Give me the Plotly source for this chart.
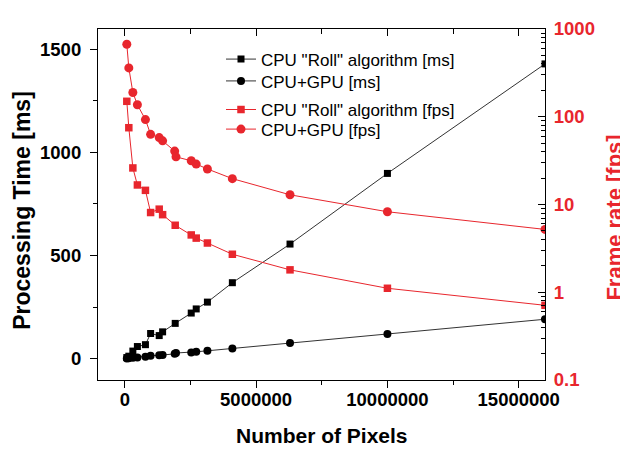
import plotly.graph_objects as go

# ---- data ----
pixels_roll = [76800, 153600, 307200, 480000, 786432, 983040, 1310720, 1440000,
               1920000, 2530000, 2720000, 3145728, 4096000, 6291456, 10000000, 16000000]
pixels_gpu = [76800, 153600, 307200, 480000, 786432, 983040, 1310720, 1440000,
              1900000, 1950000, 2530000, 2720000, 3145728, 4096000, 6291456, 10000000, 16000000]
ms_roll = [6.7, 13.3, 38, 60, 69, 123, 113, 131, 172, 222, 242, 275, 369, 556, 898, 1428]
ms_gpu = [1.5, 2.8, 5.3, 7.3, 10.8, 15.9, 17.3, 18.8, 24.6, 28.7, 31.7, 34.6, 39.4, 50.8, 77.5, 121, 192]
fps_roll = [150, 75, 26.1, 16.7, 14.5, 8.1, 8.85, 7.66, 5.8, 4.5, 4.14, 3.64, 2.71, 1.80, 1.11, 0.71]
fps_gpu = [671, 360, 189, 137, 92.8, 63, 57.9, 53.1, 40.6, 34.9, 31.5, 28.9, 25.4, 19.7, 12.9, 8.27, 5.2]

x_ticks = [0, 5000000, 10000000, 15000000]
x_tick_text = ["0", "5000000", "10000000", "15000000"]
x_minor = [2500000, 7500000, 12500000]
y_ticks = [0, 500, 1000, 1500]
y_minor = [250, 750, 1250]
fps_ticks = [0.1, 1, 10, 100, 1000]
fps_tick_text = ["0.1", "1", "10", "100", "1000"]

RED = "#e8262d"
BLACK = "#000000"
FONT = "Liberation Sans, Arial, sans-serif"

fps_minor = [m * d for d in (0.1, 1, 10, 100) for m in range(2, 10)]

fig = go.Figure()
fig.add_trace(go.Scatter(x=pixels_roll, y=ms_roll, mode="lines+markers",
                         name='CPU "Roll" algorithm [ms]', legend="legend",
                         line=dict(color="#333333", width=1),
                         marker=dict(symbol="square", size=7, color=BLACK)))
fig.add_trace(go.Scatter(x=pixels_gpu, y=ms_gpu, mode="lines+markers",
                         name="CPU+GPU [ms]", legend="legend2",
                         line=dict(color="#333333", width=1),
                         marker=dict(symbol="circle", size=8, color=BLACK)))
fig.add_trace(go.Scatter(x=pixels_roll, y=fps_roll, mode="lines+markers",
                         name='CPU "Roll" algorithm [fps]', legend="legend3",
                         xaxis="x2", yaxis="y2",
                         line=dict(color=RED, width=1),
                         marker=dict(symbol="square", size=7.5, color=RED)))
fig.add_trace(go.Scatter(x=pixels_gpu, y=fps_gpu, mode="lines+markers",
                         name="CPU+GPU [fps]", legend="legend4",
                         xaxis="x2", yaxis="y2",
                         line=dict(color=RED, width=1),
                         marker=dict(symbol="circle", size=9, color=RED)))

xrange = [-1020000, 16000000]
tickfont_black = dict(family=FONT, size=18.5, color=BLACK, weight="bold")
tickfont_red = dict(family=FONT, size=18.5, color=RED, weight="bold")


def legend_at(row_y):
    return dict(x=(221 - 98) / 447, y=(380 - row_y) / 362, xanchor="left", yanchor="middle",
                bgcolor="rgba(0,0,0,0)", borderwidth=0,
                font=dict(family=FONT, size=17, color=BLACK))


# page body adds an 8px offset; margins compensate so the plot area sits at 98..545 x 18..380
fig.update_layout(
    width=628, height=451,
    margin=dict(l=90, r=91, t=10, b=79),
    paper_bgcolor="white", plot_bgcolor="white",
    showlegend=True,
    legend=legend_at(49.5),
    legend2=legend_at(72.0),
    legend3=legend_at(101.5),
    legend4=legend_at(121.7),
    xaxis=dict(range=xrange, showgrid=False, zeroline=False,
               showline=True, linecolor=BLACK, linewidth=1.2,
               tickvals=x_ticks, ticktext=x_tick_text,
               ticks="outside", ticklen=7, tickwidth=1.2, tickcolor=BLACK,
               minor=dict(tickvals=x_minor, ticks="outside", ticklen=4, tickwidth=1.2, tickcolor=BLACK, showgrid=False),
               tickfont=tickfont_black, ticklabelstandoff=-4, ticklabeloverflow="allow"),
    xaxis2=dict(range=xrange, overlaying="x", side="top", anchor="y2",
                showgrid=False, zeroline=False,
                showline=True, linecolor=BLACK, linewidth=1.2,
                tickvals=x_ticks, showticklabels=False,
                ticks="inside", ticklen=7, tickwidth=1.2, tickcolor=BLACK,
                minor=dict(tickvals=x_minor, ticks="inside", ticklen=5, tickwidth=1.2, tickcolor=BLACK, showgrid=False)),
    yaxis=dict(range=[-102, 1597], showgrid=False, zeroline=False,
               showline=True, linecolor=BLACK, linewidth=1.2,
               tickvals=y_ticks, ticks="outside", ticklen=7, tickwidth=1.2, tickcolor=BLACK,
               minor=dict(tickvals=y_minor, ticks="outside", ticklen=4, tickwidth=1.2, tickcolor=BLACK, showgrid=False),
               tickfont=tickfont_black, ticklabelstandoff=5, ticklabeloverflow="allow"),
    yaxis2=dict(type="log", range=[-1, 3], overlaying="y", side="right", anchor="x",
                showgrid=False, zeroline=False,
                showline=True, linecolor=BLACK, linewidth=1.2,
                tickvals=fps_ticks, ticktext=fps_tick_text,
                ticks="inside", ticklen=7, tickwidth=1.2, tickcolor=BLACK,
                minor=dict(tickvals=fps_minor, ticks="inside", ticklen=4, tickwidth=1.2, tickcolor=BLACK, showgrid=False),
                tickfont=tickfont_red, ticklabelstandoff=4, ticklabeloverflow="allow"),
)

fig.add_annotation(text="<b>Number of Pixels</b>", xref="paper", yref="paper",
                   x=(322 - 98) / 447, y=(380 - 437) / 362, showarrow=False,
                   xanchor="center", yanchor="middle",
                   font=dict(family=FONT, size=21, color=BLACK))
fig.add_annotation(text="<b>Processing Time [ms]</b>", xref="paper", yref="paper",
                   x=(22.5 - 98) / 447, y=(380 - 205) / 362, showarrow=False, textangle=-90,
                   xanchor="center", yanchor="middle",
                   font=dict(family=FONT, size=23, color=BLACK))
fig.add_annotation(text="<b>Frame rate [fps]</b>", xref="paper", yref="paper",
                   x=(615 - 98) / 447, y=(380 - 212.5) / 362, showarrow=False, textangle=-90,
                   xanchor="center", yanchor="middle",
                   font=dict(family=FONT, size=22, color=RED))

fig.write_html("out.html")
